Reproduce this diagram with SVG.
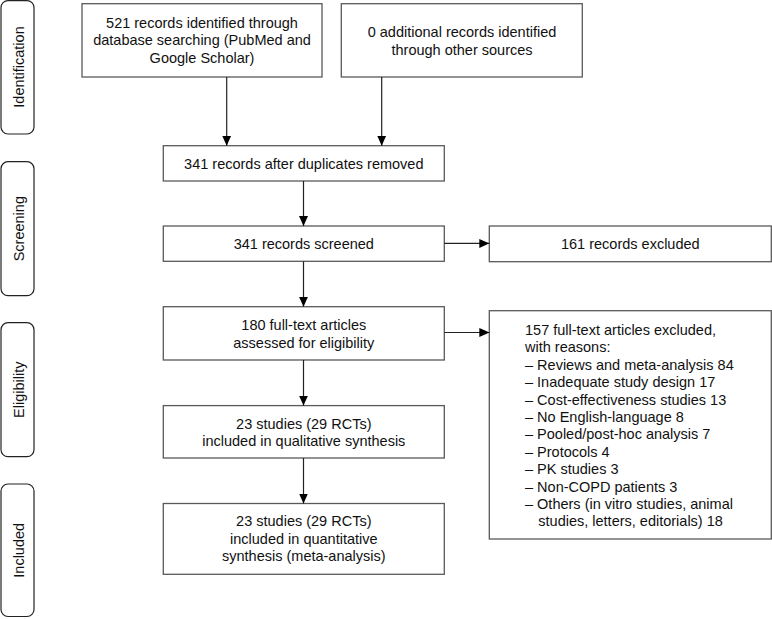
<svg xmlns="http://www.w3.org/2000/svg" width="772" height="619" viewBox="0 0 772 619">
<defs>
<style>
.box{fill:#fff;stroke:#5a5a5a;stroke-width:1.3}
.side{fill:#fff;stroke:#222;stroke-width:1.2}
.t{font-family:"Liberation Sans",Arial,sans-serif;font-size:14.5px;fill:#111;text-anchor:middle}
.l{font-family:"Liberation Sans",Arial,sans-serif;font-size:14.5px;fill:#111}
.c{stroke:#222;stroke-width:1.2;fill:none;marker-end:url(#ah)}
</style>
<marker id="ah" markerUnits="userSpaceOnUse" markerWidth="10" markerHeight="10" refX="10" refY="5" orient="auto" viewBox="0 0 10 10">
<path d="M0,0.5 L10,5 L0,9.5 z" fill="#000"/>
</marker>
</defs>
<g id="stage-identification"><rect class="side" x="1" y="0.6" width="33" height="133.4" rx="7"/><text class="t" transform="translate(24.3,67) rotate(-90)">Identification</text></g>
<g id="stage-screening"><rect class="side" x="1" y="161.7" width="33" height="134" rx="7"/><text class="t" transform="translate(24.3,228.7) rotate(-90)">Screening</text></g>
<g id="stage-eligibility"><rect class="side" x="1" y="322.7" width="33" height="134" rx="7"/><text class="t" transform="translate(24.3,389.7) rotate(-90)">Eligibility</text></g>
<g id="stage-included"><rect class="side" x="1" y="484" width="33" height="132.5" rx="7"/><text class="t" transform="translate(24.3,550.3) rotate(-90)">Included</text></g>

<g id="n-database"><rect class="box" x="82" y="3.7" width="240" height="73.3"/><text class="t" x="202" y="27.5">521 records identified through</text><text class="t" x="202" y="45">database searching (PubMed and</text><text class="t" x="202" y="62.5">Google Scholar)</text></g>
<g id="n-other"><rect class="box" x="341.3" y="3.7" width="241" height="73.3"/><text class="t" x="462" y="37">0 additional records identified</text><text class="t" x="462" y="54.5">through other sources</text></g>
<g id="n-dedup"><rect class="box" x="163.3" y="145.7" width="281" height="35.3"/><text class="t" x="303.8" y="168.8">341 records after duplicates removed</text></g>
<g id="n-screened"><rect class="box" x="163.3" y="226" width="281" height="35.3"/><text class="t" x="303.8" y="249">341 records screened</text></g>
<g id="n-excluded"><rect class="box" x="489.3" y="226" width="282" height="35.7"/><text class="t" x="630.3" y="249">161 records excluded</text></g>
<g id="n-fulltext"><rect class="box" x="163.3" y="306.7" width="281" height="53.3"/><text class="t" x="303.8" y="330">180 full-text articles</text><text class="t" x="303.8" y="347.5">assessed for eligibility</text></g>
<g id="n-ft-excluded"><rect class="box" x="489.3" y="310.7" width="282" height="228.3"/>
<text class="l" x="525" y="335">157 full-text articles excluded,</text>
<text class="l" x="525" y="352.4">with reasons:</text>
<text class="l" x="525" y="369.8">– Reviews and meta-analysis 84</text>
<text class="l" x="525" y="387.2">– Inadequate study design 17</text>
<text class="l" x="525" y="404.6">– Cost-effectiveness studies 13</text>
<text class="l" x="525" y="422">– No English-language 8</text>
<text class="l" x="525" y="439.4">– Pooled/post-hoc analysis 7</text>
<text class="l" x="525" y="456.8">– Protocols 4</text>
<text class="l" x="525" y="474.2">– PK studies 3</text>
<text class="l" x="525" y="491.6">– Non-COPD patients 3</text>
<text class="l" x="525" y="509">– Others (in vitro studies, animal</text>
<text class="l" x="538.3" y="526.4">studies, letters, editorials) 18</text>
</g>
<g id="n-qualitative"><rect class="box" x="163.3" y="405.6" width="281" height="52.4"/><text class="t" x="303.8" y="428.5">23 studies (29 RCTs)</text><text class="t" x="303.8" y="446">included in qualitative synthesis</text></g>
<g id="n-quantitative"><rect class="box" x="163.3" y="503.5" width="281" height="70.8"/><text class="t" x="303.8" y="526">23 studies (29 RCTs)</text><text class="t" x="303.8" y="543.7">included in quantitative</text><text class="t" x="303.8" y="561.4">synthesis (meta-analysis)</text></g>

<g id="connectors">
<line class="c" x1="226.7" y1="77" x2="226.7" y2="145.7"/>
<line class="c" x1="381.7" y1="77" x2="381.7" y2="145.7"/>
<line class="c" x1="303.5" y1="181" x2="303.5" y2="226"/>
<line class="c" x1="303.5" y1="261.3" x2="303.5" y2="306.7"/>
<line class="c" x1="444.3" y1="243.4" x2="489.3" y2="243.4"/>
<line class="c" x1="444.3" y1="332.5" x2="489.3" y2="332.5"/>
<line class="c" x1="303.5" y1="360" x2="303.5" y2="405.6"/>
<line class="c" x1="303.5" y1="458" x2="303.5" y2="503.5"/>
</g>
</svg>
